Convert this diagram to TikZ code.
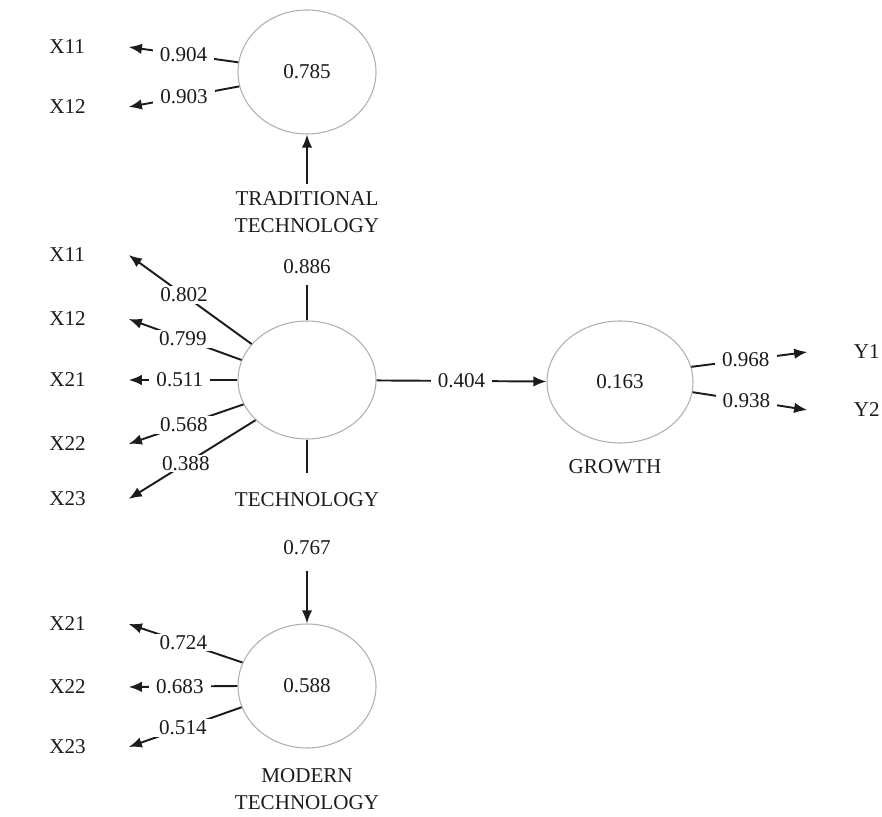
\documentclass[tikz,border=0pt]{standalone}
\usepackage{fontspec}
\setmainfont{Liberation Serif}
\usetikzlibrary{positioning,shapes.geometric,arrows.meta}
\definecolor{ringgray}{RGB}{175,175,175}
\definecolor{inkdark}{RGB}{28,28,28}

\begin{document}
\begin{tikzpicture}[
		x=1cm,
		y=1cm,
		>=Latex,
		font=\fontsize{12}{15}\selectfont,
		text=inkdark,
		latent/.style={
			ellipse,
			draw=ringgray,
			line width=0.6pt,
			fill=white,
			inner sep=0pt,
			minimum width=2.76cm,
			minimum height=2.44cm
		},
		ind/.style={anchor=west, text width=1.58cm, inner sep=0pt, align=left},
		indr/.style={anchor=east, text width=1.44cm, inner sep=0pt, align=right},
		coef/.style={fill=white, inner xsep=4pt, inner ysep=1pt},
		latname/.style={align=center, inner sep=4pt},
		arrow/.style={-{Latex[length=7.5pt,width=6pt]}, line width=1.1pt, draw=inkdark},
		link/.style={line width=1.1pt, draw=inkdark}
	]
	
	% Canvas
	\path[draw=none] (0,0) rectangle (17.64,16.32);
	
	% Latent variables
	\node[latent, minimum height=2.48cm] (trad) at (6.14,14.88) {0.785};
	\node[latent, minimum height=2.36cm] (tech) at (6.14,8.72) {};
	\node[latent, minimum height=2.48cm] (modern) at (6.14,2.60) {0.588};
	\node[latent, minimum width=2.92cm] (growth) at (12.40,8.68) {0.163};
	
	% Names and path values
	\node[latname] (tradname) at (6.14,12.08) {TRADITIONAL\\TECHNOLOGY};
	\node[inner sep=3pt] (l886) at (6.14,10.98) {0.886};
	\node[latname] (techname) at (6.14,6.32) {TECHNOLOGY};
	\node[inner sep=3pt] (l767) at (6.14,5.36) {0.767};
	\node[latname] (modname) at (6.14,0.54) {MODERN\\TECHNOLOGY};
	\node[latname] (growname) at (12.30,6.98) {GROWTH};
	
	% Indicators
	\node[ind] (tx11) at (0.98,15.38) {X11};
	\node[ind] (tx12) at (0.98,14.18) {X12};
	\node[ind] (cx11) at (0.98,11.22) {X11};
	\node[ind] (cx12) at (0.98,9.94) {X12};
	\node[ind] (cx21) at (0.98,8.72) {X21};
	\node[ind] (cx22) at (0.98,7.44) {X22};
	\node[ind] (cx23) at (0.98,6.34) {X23};
	\node[ind] (mx21) at (0.98,3.84) {X21};
	\node[ind] (mx22) at (0.98,2.58) {X22};
	\node[ind] (mx23) at (0.98,1.38) {X23};
	\node[indr] (y1) at (17.60,9.28) {Y1};
	\node[indr] (y2) at (17.60,8.12) {Y2};
	
	% Loadings
	\foreach \ang/\dst/\val/\p in {172/tx11/0.904/0.5,192/tx12/0.903/0.5}{
		\draw[arrow] (trad.\ang) -- node[coef, pos=\p] {\val} (\dst.east);
	}
	\foreach \ang/\dst/\val/\p in {147/cx11/0.802/0.55,163/cx12/0.799/0.52,180/cx21/0.511/0.53,201/cx22/0.568/0.52,218/cx23/0.388/0.55}{
		\draw[arrow] (tech.\ang) -- node[coef, pos=\p] {\val} (\dst.east);
	}
	\foreach \ang/\dst/\val/\p in {160/mx21/0.724/0.52,180/mx22/0.683/0.53,198/mx23/0.514/0.52}{
		\draw[arrow] (modern.\ang) -- node[coef, pos=\p] {\val} (\dst.east);
	}
	\foreach \ang/\dst/\val in {12/y1/0.968,352/y2/0.938}{
		\draw[arrow] (growth.\ang) -- node[coef, pos=0.47] {\val} (\dst.west);
	}
	
	% Structural paths
	\draw[link, shorten >=3pt] (tech) -- (l886);
	\draw[arrow] (tradname) -- (trad);
	\draw[link, shorten >=7pt] (tech) -- (techname);
	\draw[arrow, shorten <=6pt] (l767) -- (modern);
	\draw[arrow] (tech) -- node[coef] {0.404} (growth);
	
\end{tikzpicture}
\end{document}
